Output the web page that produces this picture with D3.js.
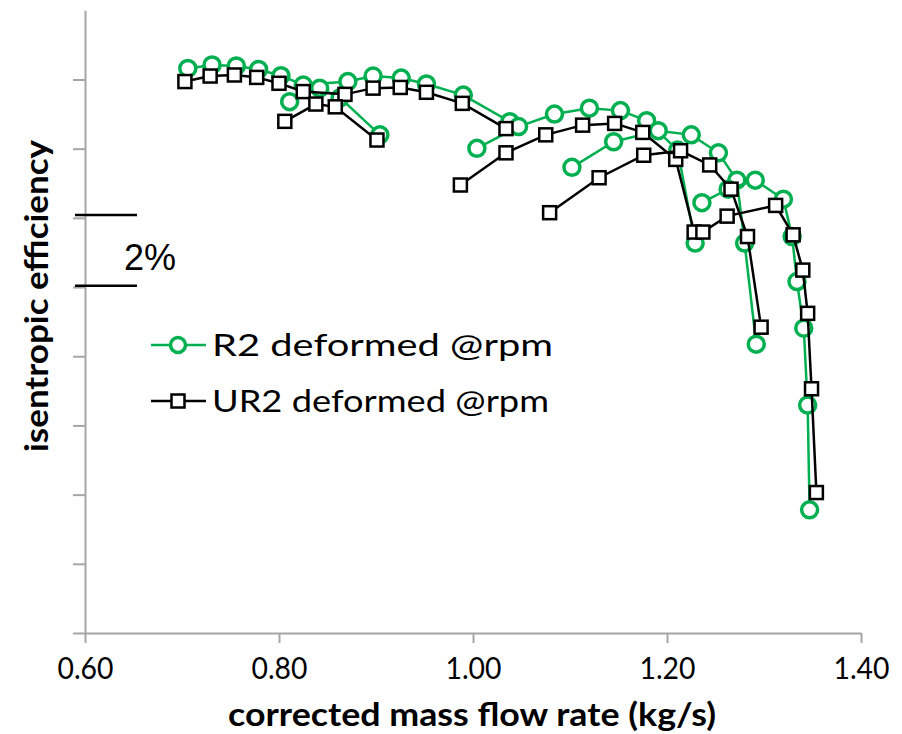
<!DOCTYPE html>
<html>
<head>
<meta charset="utf-8">
<script src="https://cdnjs.cloudflare.com/ajax/libs/d3/7.8.5/d3.min.js"></script>
<style>
  body { margin: 0; background: #fff; }
  text { font-family: Lato, "Open Sans", sans-serif; }
</style>
</head>
<body>
<div id="chart"></div>
<script>
// flow (kg/s), efficiency (relative %, one tick = 2%)
const xTicks = [0.6, 0.8, 1.0, 1.2, 1.4];
const yTicks = [70, 72, 74, 76, 78, 80, 82, 84, 86];
const seriesNames = ["R2 deformed @rpm", "UR2 deformed @rpm"];
const scaleBar = [80.04, 82.08];

// R2 deformed (green circles)
const r2Top = [[0.706, 86.32], [0.731, 86.42], [0.756, 86.39], [0.779, 86.29], [0.802, 86.11], [0.825, 85.84],
  [0.871, 85.94], [0.897, 86.10], [0.926, 86.04], [0.952, 85.87], [0.990, 85.55], [1.038, 84.78]];
const r2Speed1 = [[0.811, 85.36], [0.842, 85.75], [0.863, 85.47], [0.904, 84.40]];
const r2Speed2 = [[1.004, 84.01], [1.047, 84.64], [1.084, 85.00], [1.120, 85.17], [1.152, 85.10], [1.179, 84.81],
  [1.211, 83.96], [1.229, 81.27]];
const r2Speed3 = [[1.102, 83.46], [1.145, 84.20], [1.191, 84.52], [1.225, 84.40], [1.253, 83.88], [1.272, 83.09],
  [1.280, 81.27], [1.292, 78.35]];
const r2Speed4 = [[1.236, 82.44], [1.263, 82.83], [1.291, 83.09], [1.320, 82.54], [1.329, 81.46], [1.334, 80.16],
  [1.341, 78.81], [1.345, 76.59], [1.347, 73.56]];

// UR2 deformed (black squares)
const ur2Top = [[0.703, 85.94], [0.729, 86.10], [0.754, 86.13], [0.777, 86.06], [0.800, 85.89], [0.825, 85.65],
  [0.868, 85.57], [0.897, 85.75], [0.925, 85.77], [0.952, 85.63], [0.989, 85.31], [1.034, 84.58]];
const ur2Speed1 = [[0.806, 84.79], [0.838, 85.29], [0.858, 85.21], [0.901, 84.25]];
const ur2Speed2 = [[0.987, 82.95], [1.034, 83.88], [1.075, 84.40], [1.113, 84.68], [1.146, 84.73], [1.175, 84.47],
  [1.209, 83.69], [1.228, 81.59]];
const ur2Speed3 = [[1.079, 82.15], [1.130, 83.16], [1.176, 83.81], [1.214, 83.94], [1.244, 83.53], [1.266, 82.83],
  [1.283, 81.46], [1.297, 78.84]];
const ur2Speed4 = [[1.237, 81.59], [1.262, 82.05], [1.312, 82.36], [1.330, 81.51], [1.340, 80.49], [1.345, 79.24],
  [1.349, 77.06], [1.354, 74.06]];

const r2Lines = [r2Top, r2Speed1, r2Speed2, r2Speed3, r2Speed4];
const ur2Lines = [ur2Top, ur2Speed1, ur2Speed2, ur2Speed3, ur2Speed4];

const width = 902, height = 734;
const green = "#00b050";
const axisGray = "#a6a6a6";

const svg = d3.select("#chart").append("svg")
  .attr("width", width)
  .attr("height", height);

const x = d3.scaleLinear().domain([0.6, 1.4]).range([85, 861]);
const y = d3.scaleLinear().domain([70, 88]).range([633, 10.3]);

// y axis (no labels)
const yAxis = svg.append("g")
  .attr("transform", `translate(${x(0.6)},0)`)
  .call(d3.axisLeft(y).tickValues(yTicks).tickSize(12).tickSizeOuter(0).tickFormat(""));

// x axis
const xAxis = svg.append("g")
  .attr("transform", `translate(0,${y(70)})`)
  .call(d3.axisBottom(x).tickValues(xTicks).tickSize(10).tickSizeOuter(0).tickFormat(d3.format(".2f")));

[yAxis, xAxis].forEach(a => {
  a.select(".domain").attr("stroke", axisGray).attr("stroke-width", 2);
  a.selectAll(".tick line").attr("stroke", axisGray).attr("stroke-width", 2);
});

xAxis.selectAll(".tick text")
  .attr("y", 46)
  .attr("dy", 0)
  .attr("fill", "#000")
  .style("font-size", "31px")
  .attr("textLength", 56)
  .attr("lengthAdjust", "spacingAndGlyphs");

// axis titles
svg.append("text")
  .attr("x", 472)
  .attr("y", 726)
  .attr("text-anchor", "middle")
  .style("font-size", "32px")
  .style("font-weight", "bold")
  .attr("textLength", 488)
  .attr("lengthAdjust", "spacingAndGlyphs")
  .text("corrected mass flow rate (kg/s)");

svg.append("text")
  .attr("transform", "translate(48,296) rotate(-90)")
  .attr("text-anchor", "middle")
  .style("font-size", "32px")
  .style("font-weight", "bold")
  .attr("textLength", 312)
  .attr("lengthAdjust", "spacingAndGlyphs")
  .text("isentropic efficiency");

// 2% scale bar
svg.selectAll(".bar")
  .data(scaleBar)
  .enter()
  .append("line")
  .attr("x1", 75)
  .attr("x2", 137)
  .attr("y1", d => y(d))
  .attr("y2", d => y(d))
  .attr("stroke", "#000")
  .attr("stroke-width", 2.5);

svg.append("text")
  .attr("x", 124)
  .attr("y", 270)
  .style("font-family", "Arial, 'Liberation Sans', sans-serif")
  .style("font-size", "36px")
  .text("2%");

const line = d3.line().x(d => x(d[0])).y(d => y(d[1]));

// green series
r2Lines.forEach(pts => {
  svg.append("path")
    .attr("d", line(pts))
    .attr("fill", "none")
    .attr("stroke", green)
    .attr("stroke-width", 2.5);
  svg.selectAll(null)
    .data(pts)
    .enter()
    .append("circle")
    .attr("cx", d => x(d[0]))
    .attr("cy", d => y(d[1]))
    .attr("r", 8)
    .attr("fill", "#fff")
    .attr("stroke", green)
    .attr("stroke-width", 3.5);
});

// black series
ur2Lines.forEach(pts => {
  svg.append("path")
    .attr("d", line(pts))
    .attr("fill", "none")
    .attr("stroke", "#000")
    .attr("stroke-width", 2.5);
  svg.selectAll(null)
    .data(pts)
    .enter()
    .append("rect")
    .attr("x", d => x(d[0]) - 6.5)
    .attr("y", d => y(d[1]) - 6.5)
    .attr("width", 13)
    .attr("height", 13)
    .attr("fill", "#fff")
    .attr("stroke", "#000")
    .attr("stroke-width", 2.5);
});

// legend
const legend = svg.append("g");
const legendY = [345, 401];
const legendWidths = [341, 337];

seriesNames.forEach((name, i) => {
  const ly = legendY[i];
  const col = i === 0 ? green : "#000";
  legend.append("line")
    .attr("x1", 151).attr("x2", 206)
    .attr("y1", ly).attr("y2", ly)
    .attr("stroke", col)
    .attr("stroke-width", 2.5);
  if (i === 0) {
    legend.append("circle")
      .attr("cx", 178).attr("cy", ly).attr("r", 7.5)
      .attr("fill", "#fff").attr("stroke", col).attr("stroke-width", 3.5);
  } else {
    legend.append("rect")
      .attr("x", 171.5).attr("y", ly - 6.5)
      .attr("width", 13).attr("height", 13)
      .attr("fill", "#fff").attr("stroke", col).attr("stroke-width", 2.5);
  }
  legend.append("text")
    .attr("x", 212)
    .attr("y", ly + 11)
    .style("font-size", "31px")
    .attr("textLength", legendWidths[i])
    .attr("lengthAdjust", "spacingAndGlyphs")
    .text(name);
});
</script>
</body>
</html>
